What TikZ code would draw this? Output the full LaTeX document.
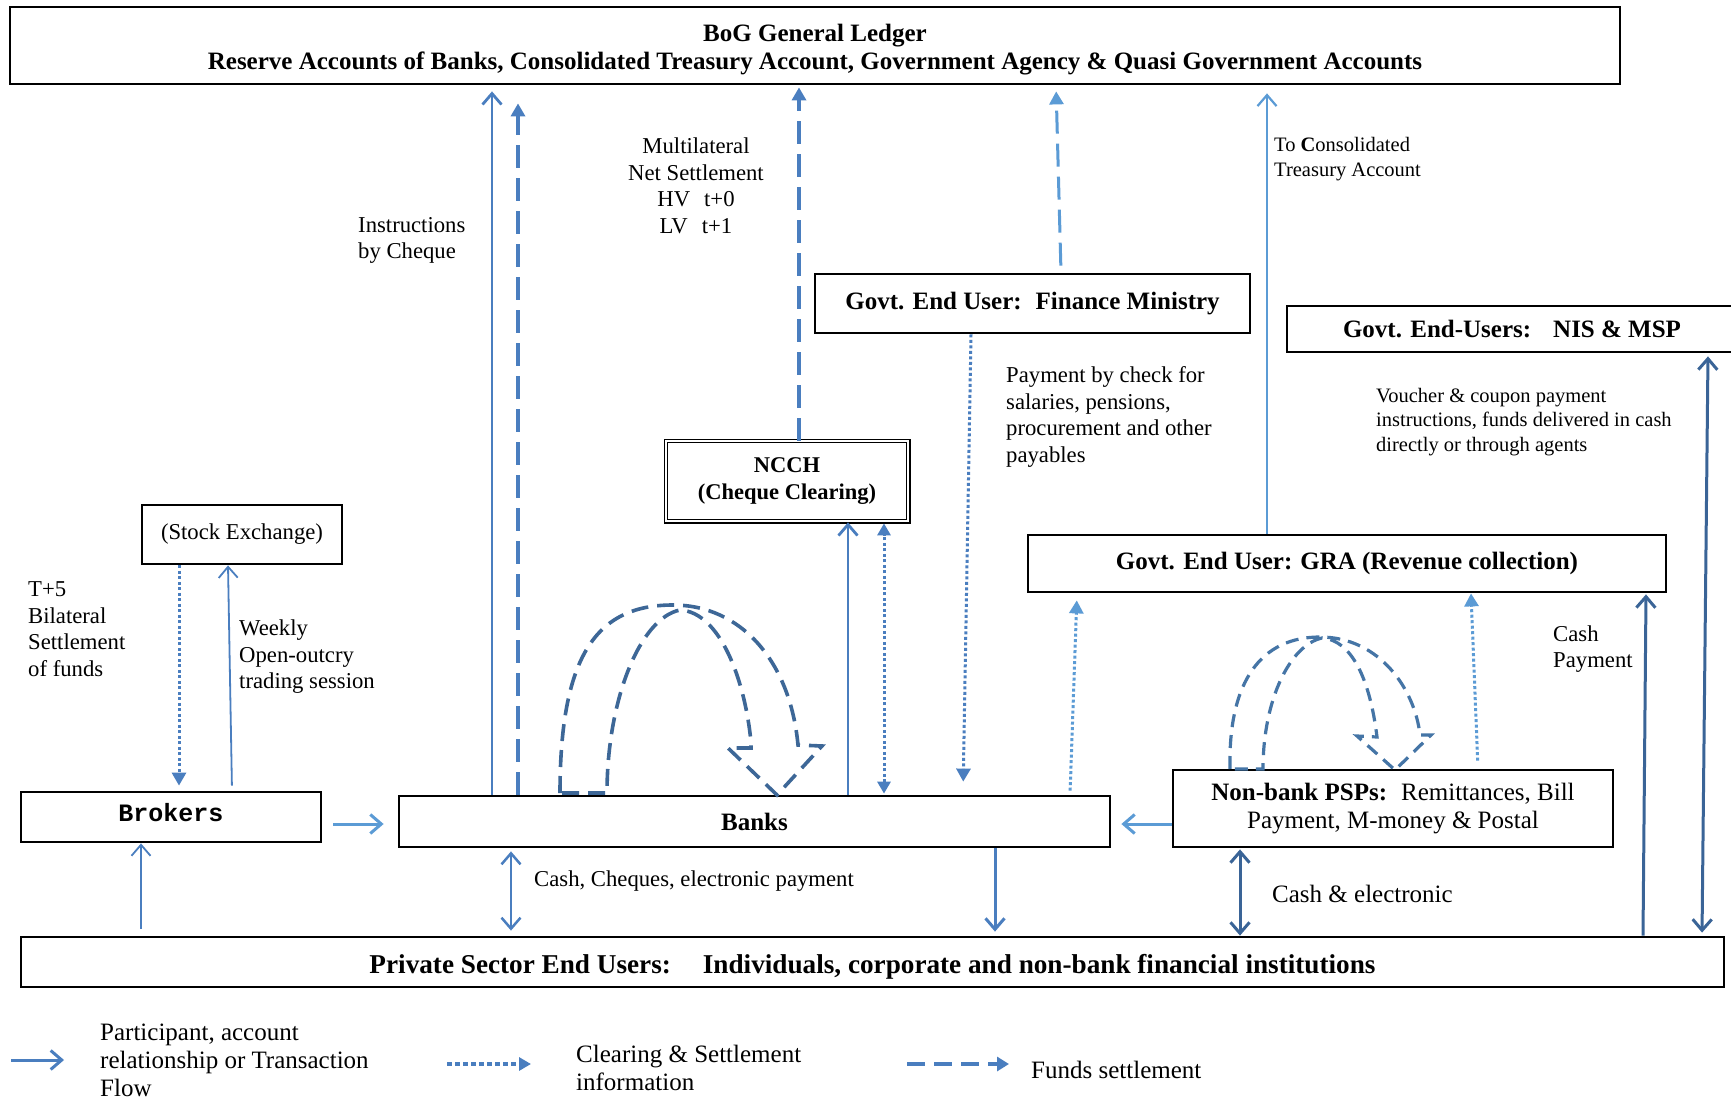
\documentclass[tikz,border=0pt]{standalone}
\usepackage{fontspec}
\setmainfont{Liberation Serif}
\setmonofont{Liberation Mono}
\usetikzlibrary{arrows.meta}
\definecolor{mblue}{RGB}{74,126,191}
\definecolor{lblue}{RGB}{91,155,213}
\definecolor{dblue}{RGB}{58,100,151}
\definecolor{cblue}{RGB}{61,103,151}
\definecolor{cblueb}{RGB}{69,117,166}
\newcommand\ftA{\fontsize{22.7}{26.5}\selectfont}
\newcommand\ftB{\fontsize{25}{28}\selectfont}
\newcommand\ftC{\fontsize{20.5}{24.5}\selectfont}
\newcommand\ftN{\fontsize{22.5}{27}\selectfont}
\begin{document}
\begin{tikzpicture}[x=1pt,y=-1pt,
  box/.style={draw=black, line width=2.8pt, inner sep=0pt, align=center, font=\ftB\bfseries},
  lbl/.style={inner sep=0pt, align=left, anchor=west, font=\ftA},
  barb/.style={-{Straight Barb[length=11pt,width=19pt]}},
  barbs/.style={{Straight Barb[length=11pt,width=19pt]}-{Straight Barb[length=11pt,width=19pt]}},
  tri/.style={-{Triangle[length=13pt,width=14pt]}},
  tris/.style={{Triangle[length=12pt,width=13pt]}-{Triangle[length=12pt,width=13pt]}},
  solidm/.style={draw=mblue, line width=2.8pt},
  solidl/.style={draw=lblue, line width=2.2pt},
  solidd/.style={draw=dblue, line width=3pt},
  thinm/.style={draw=mblue, line width=1.8pt},
  dashm/.style={draw=mblue, line width=3.4pt, dash pattern=on 23pt off 10pt},
  dashl/.style={draw=lblue, line width=3pt, dash pattern=on 23pt off 10pt},
  dotm/.style={draw=mblue, line width=3pt, dash pattern=on 3pt off 2.5pt},
  dotl/.style={draw=lblue, line width=3pt, dash pattern=on 3pt off 2.5pt},
  curveA/.style={draw=cblue, line width=3.6pt, dash pattern=on 17pt off 9pt, line join=miter},
  curveB/.style={draw=cblueb, line width=3.2pt, dash pattern=on 13pt off 8pt, line join=miter}
]
\useasboundingbox (0,0) rectangle (1731,1099);
\clip (0,0) rectangle (1731,1099);
\fill[white] (0,0) rectangle (1731,1099);

% ---------- boxes ----------
\node[box, minimum width=1610pt, minimum height=77pt] (bog) at (815,45.5)
  {\rule{0pt}{26pt}BoG General Ledger\\Reserve Accounts of Banks, Consolidated Treasury Account, Government Agency \& Quasi Government Accounts};
\node[box, minimum width=435pt, minimum height=59pt] (fin) at (1032.5,303.5)
  {Govt. End User:\hspace{14pt}Finance Ministry};
\node[box, minimum width=450pt, minimum height=46pt] (nis) at (1512,329)
  {Govt. End-Users:\hspace{22pt}NIS \& MSP};
\node[box, minimum width=638pt, minimum height=57pt] (gra) at (1347,563.5)
  {Govt. End User:\hspace{8pt}GRA (Revenue collection)};
\node[box, draw=none, minimum width=240pt, minimum height=78pt, font=\ftN\bfseries] (ncch) at (787,481)
  {NCCH\\(Cheque Clearing)};
\draw[line width=1.1pt, double=white, double distance=2pt] (ncch.north west) rectangle (ncch.south east);
\node[box, minimum width=200pt, minimum height=59pt, font=\ftA] (stock) at (242,534.5)
  {(Stock Exchange)};
\node[box, minimum width=300pt, minimum height=50pt, font=\ftB\ttfamily\bfseries] (brokers) at (171,817)
  {\rule[-9pt]{0pt}{9pt}Brokers};
\node[box, minimum width=711pt, minimum height=51pt] (banks) at (754.5,821.5)
  {Banks};
\node[box, minimum width=440pt, minimum height=77pt, font=\ftB] (psp) at (1393,808.5)
  {\textbf{Non-bank PSPs:}\hspace{14pt}Remittances, Bill\\Payment, M-money \& Postal};
\node[box, minimum width=1703pt, minimum height=50pt, font=\fontsize{27.2}{30}\selectfont\bfseries] (priv) at (872.5,962)
  {\rule{0pt}{29pt}Private Sector End Users:\hspace{32pt}Individuals, corporate and non-bank financial institutions};

% ---------- connectors to BoG ----------
\draw[solidm, barb, shorten >=6pt] (banks.north -| 492,0) -- (bog.south -| 492,0);
\draw[dashm, tri, shorten >=18pt] (banks.north -| 518,0) -- (bog.south -| 518,0);
\draw[dashm, tri, shorten >=2pt] (ncch.north -| 799,0) -- (bog.south -| 799,0);
\draw[dashl, tri, shorten <=7pt, shorten >=6pt] (fin.north -| 1061,0) -- (bog.south -| 1056,0);
\draw[solidl, barb, shorten >=8pt] (gra.north -| 1267,0) -- (bog.south -| 1267,0);

% ---------- middle connectors ----------
\draw[dotm, tri, shorten >=13pt] (fin.south -| 971,0) -- (banks.north -| 963,0);
\draw[solidm, barb, shorten >=1pt] (banks.north -| 848,0) -- (ncch.south -| 848,0);
\draw[dotm, tris, shorten <=1pt, shorten >=2pt] (banks.north -| 884,0) -- (ncch.south -| 884,0);
\draw[dotl, tri, shorten <=4pt, shorten >=7pt] (banks.north -| 1070,0) -- (gra.south -| 1077,0);
\draw[dotl, tri, shorten <=8pt] (psp.north -| 1478,0) -- (gra.south -| 1471,0);
\draw[solidd, barb, shorten >=1pt] (priv.north -| 1643,0) -- (gra.south -| 1646,0);
\draw[solidd, barbs, shorten <=3pt, shorten >=3pt] (priv.north -| 1702,0) -- (nis.south -| 1708,0);

% ---------- left connectors ----------
\draw[dotm, tri, shorten >=5pt] (stock.south -| 179,0) -- (brokers.north -| 179,0);
\draw[thinm, barb, shorten <=5pt] (brokers.north -| 232,0) -- (stock.south -| 228,0);
\draw[solidl, line width=3pt, barb, shorten <=11pt, shorten >=14pt] (brokers.east |- 0,824) -- (banks.west |- 0,824);
\draw[thinm, barb, shorten <=7pt] (priv.north -| 141,0) -- (brokers.south -| 141,0);
\draw[solidm, line width=2.5pt, barbs, shorten <=3pt, shorten >=5pt] (banks.south -| 511,0) -- (priv.north -| 511,0);
\draw[solidm, line width=3pt, barb, shorten >=4pt] (banks.south -| 995,0) -- (priv.north -| 995,0);
\draw[solidl, line width=3pt, barb, shorten >=10pt] (psp.west |- 0,824) -- (banks.east |- 0,824);
\draw[solidd, barbs, shorten <=1pt] (psp.south -| 1240,0) -- (priv.north -| 1240,0);

% ---------- curved dashed arrows ----------
\draw[curveA] (560,793) .. controls (560,650) and (600,605) .. (673,605)
  .. controls (740,605) and (790,660) .. (798,745) -- (822,746) -- (777,795) -- (728,748)
  -- (751,748) -- (751,742) .. controls (745,680) and (720,612) .. (680,610)
  .. controls (640,618) and (607,700) .. (607,793) -- cycle;
\draw[curveB] (1230,769) .. controls (1228,680) and (1262,637) .. (1320,637)
  .. controls (1380,637) and (1415,690) .. (1420,735) -- (1431,735) -- (1395,770) -- (1357,736)
  -- (1377,737) .. controls (1370,680) and (1352,640) .. (1322,638)
  .. controls (1290,645) and (1263,700) .. (1263,769) -- cycle;

% ---------- labels ----------
\node[lbl] (linstr) at (358,240.5) {Instructions\\by Cheque};
\node[lbl, align=center, anchor=center] (lmulti) at (696,186)
  {Multilateral\\Net Settlement\\HV\hspace{14pt}t+0\\LV\hspace{14pt}t+1};
\node[lbl, font=\ftC] (lcons) at (1274,159) {To \textbf{C}onsolidated\\Treasury Account};
\node[lbl] (lpay) at (1006,417) {Payment by check for\\salaries, pensions,\\procurement and other\\payables};
\node[lbl, font=\ftC] (lvouch) at (1376,422) {Voucher \& coupon payment\\instructions, funds delivered in cash\\directly or through agents};
\node[lbl] (lt5) at (28,629) {T+5\\Bilateral\\Settlement\\of funds};
\node[lbl] (lweek) at (239,657) {Weekly\\Open-outcry\\trading session};
\node[lbl] (lcashp) at (1553,649) {Cash\\Payment};
\node[lbl, font=\fontsize{22.7}{26}\selectfont] (lccep) at (534,881) {Cash, Cheques, electronic payment};
\node[lbl, font=\ftB] (lcashe) at (1272,894) {Cash \& electronic};

% ---------- legend ----------
\coordinate (la1) at (11,1060); \coordinate (la2) at (64,1060);
\draw[solidm, line width=3pt, barb] (la1) -- (la2);
\node[lbl, font=\ftB] (lleg1) at (100,1060) {Participant, account\\relationship or Transaction\\Flow};
\coordinate (lb1) at (447,1064); \coordinate (lb2) at (531,1064);
\draw[draw=mblue, line width=4.5pt, dash pattern=on 5pt off 3pt, -{Triangle[length=12pt,width=13pt]}] (lb1) -- (lb2);
\node[lbl, font=\ftB] (lleg2) at (576,1068) {Clearing \& Settlement\\information};
\coordinate (lc1) at (907,1064); \coordinate (lc2) at (1009,1064);
\draw[draw=mblue, line width=4.5pt, dash pattern=on 18pt off 9pt, -{Triangle[length=12pt,width=14pt]}] (lc1) -- (lc2);
\node[lbl, font=\ftB] (lleg3) at (1031,1070) {Funds settlement};
\end{tikzpicture}
\end{document}
